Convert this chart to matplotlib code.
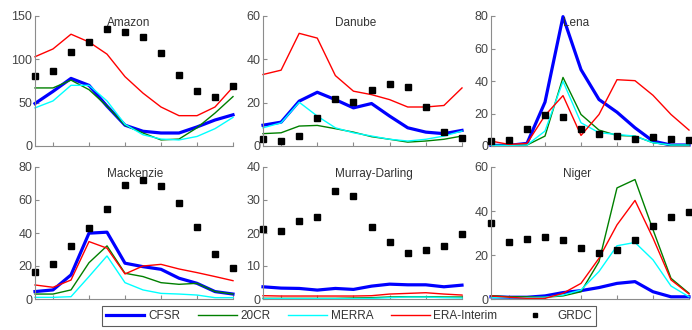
import matplotlib
import numpy as np

matplotlib.use('Agg')
import matplotlib.pyplot as plt

plt.rcParams['font.family'] = ['Liberation Sans', 'DejaVu Sans']

months = np.arange(1, 13)

basins = ['Amazon', 'Danube', 'Lena', 'Mackenzie', 'Murray-Darling', 'Niger']
series_names = ['CFSR', '20CR', 'MERRA', 'ERA-Interim']

# monthly runoff per basin
cfsr = {
    'Amazon': [49, 63, 78, 70, 46, 24, 17, 15, 15, 22, 30, 36],
    'Danube': [9.6, 11, 20.7, 24.8, 21.4, 17.6, 19.6, 13.8, 8.4, 6.4, 5.7, 7.2],
    'Lena': [0.4, 0.4, 1.6, 27, 79.6, 47, 28.6, 20.8, 11.2, 3, 0.6, 0.6],
    'Mackenzie': [4.5, 5.5, 14.6, 39.9, 40.5, 21.7, 19.6, 18, 12.6, 9.5, 4.5, 3],
    'Murray-Darling': [3.7, 3.3, 3.2, 2.7, 3.2, 2.9, 3.9, 4.5, 4.3, 4.3, 3.7, 4.2],
    'Niger': [1, 0.8, 0.8, 1.4, 2.9, 3.8, 5.2, 7.1, 7.9, 3.3, 1, 1],
}
c20cr = {
    'Amazon': [67, 67, 76, 65, 46, 24, 15, 7, 8, 21, 38, 57],
    'Danube': [5.7, 6.1, 9.2, 9.5, 8, 6.4, 4.3, 3.1, 1.8, 2.3, 3.1, 4.6],
    'Lena': [0.4, 0.4, 0.6, 6.1, 42.2, 19.4, 9.8, 6.5, 6.1, 2, 0.6, 0.6],
    'Mackenzie': [3, 3, 5.5, 22, 32.2, 15.6, 13.6, 9.9, 8.9, 9.5, 4.5, 3],
    'Murray-Darling': [0.2, 0.2, 0.2, 0.2, 0.2, 0.3, 0.4, 0.6, 0.7, 0.7, 0.6, 0.6],
    'Niger': [1.5, 1, 1, 0.8, 1.4, 3.3, 17, 50.5, 54.3, 31.5, 9.4, 2.6],
}
merra = {
    'Amazon': [44, 52, 70, 70, 52, 25, 13, 8, 7, 11, 20, 33],
    'Danube': [8.4, 10.7, 20.2, 13.8, 8.4, 6.1, 4.6, 3.1, 2.3, 3.1, 4.6, 6.9],
    'Lena': [0.4, 0.4, 0.6, 9.2, 39.8, 14.3, 8.2, 7.1, 6.1, 2, 0.6, 0.6],
    'Mackenzie': [1, 1, 1.4, 13.6, 26.1, 9.9, 5.5, 3.4, 3, 2.4, 0.8, 0.8],
    'Murray-Darling': [0.1, 0.1, 0.1, 0.1, 0.1, 0.1, 0.2, 0.4, 0.6, 0.6, 0.4, 0.3],
    'Niger': [0.6, 0.6, 0.6, 0.8, 1.8, 4.1, 12.5, 24.2, 25.7, 17.8, 5.9, 1],
}
era = {
    'Amazon': [103, 112, 129, 120, 106, 80, 61, 45, 35, 35, 45, 68],
    'Danube': [33, 35, 52, 49.8, 32.5, 25.3, 23.7, 21.4, 18, 18, 18.7, 26.8],
    'Lena': [3, 1, 1.6, 18.8, 31, 6.5, 19.4, 40.8, 40.2, 31.2, 19.4, 9.8],
    'Mackenzie': [8.5, 7.1, 11.5, 34.8, 30.8, 15.2, 20, 21, 18.2, 16, 13.6, 11.1],
    'Murray-Darling': [1.0, 0.9, 0.9, 0.9, 0.9, 0.9, 1.0, 1.5, 1.7, 1.9, 1.5, 1.2],
    'Niger': [1.4, 0.8, 0.3, 0.3, 2.6, 7.1, 18.5, 33.7, 44.8, 27.7, 8.7, 2.3],
}
grdc = {
    'Amazon': [81, 86, 109, 120, 135, 131, 126, 107, 82, 64, 57, 69],
    'Danube': [3.4, 2.3, 4.6, 13, 21.7, 20.5, 25.7, 28.8, 27.3, 17.9, 6.4, 3.8],
    'Lena': [3, 3.7, 10.2, 18.8, 17.8, 10.2, 7.1, 6.1, 4.5, 5.5, 4.5, 3.5],
    'Mackenzie': [16.6, 21.3, 32.2, 43.1, 54.5, 69.2, 71.9, 68.2, 58.1, 43.9, 27.3, 19],
    'Murray-Darling': [21.3, 20.6, 23.5, 24.7, 32.6, 31.2, 21.8, 17.2, 13.8, 14.9, 16.2, 19.6],
    'Niger': [34.5, 25.7, 27.4, 28.1, 26.6, 23.1, 21.1, 22.3, 26.6, 33.3, 37.1, 39.4],
}

ymax = {'Amazon': 150, 'Danube': 60, 'Lena': 80,
        'Mackenzie': 80, 'Murray-Darling': 40, 'Niger': 60}
ystep = {'Amazon': 50, 'Danube': 20, 'Lena': 20,
         'Mackenzie': 20, 'Murray-Darling': 10, 'Niger': 20}

W, H = 692, 330
fig = plt.figure(figsize=(W / 100, H / 100), dpi=100)

# axes boxes in pixels: left, right, top, bottom
boxes = {
    'Amazon': (35, 233, 16, 146),
    'Danube': (263, 462, 16, 146),
    'Lena': (491, 689, 16, 146),
    'Mackenzie': (35, 233, 167, 299),
    'Murray-Darling': (263, 462, 167, 299),
    'Niger': (491, 689, 167, 299),
}

gray = '#8c8c8c'
for name in basins:
    l, r, t, b = boxes[name]
    ax = fig.add_axes([l / W, 1 - b / H, (r - l) / W, (b - t) / H])
    ax.plot(months, cfsr[name], color='#0000ff', lw=2.3, label='CFSR', clip_on=False)
    ax.plot(months, c20cr[name], color='#008000', lw=1.0, label='20CR', clip_on=False)
    ax.plot(months, merra[name], color='#00ffff', lw=1.0, label='MERRA', clip_on=False)
    ax.plot(months, era[name], color='#ff0000', lw=1.0, label='ERA-Interim', clip_on=False)
    ax.plot(months, grdc[name], 's', color='k', ms=4, label='GRDC', clip_on=False)
    ax.set_xlim(1, 12)
    ax.set_ylim(0, ymax[name])
    ax.set_xticks(np.arange(2, 13, 2))
    ax.set_xticklabels([])
    ax.set_yticks(np.arange(0, ymax[name] + 1, ystep[name]))
    for s in ['top', 'right']:
        ax.spines[s].set_visible(False)
    for s in ['left', 'bottom']:
        ax.spines[s].set_color(gray)
        ax.spines[s].set_linewidth(0.8)
    ax.tick_params(direction='in', length=3, color=gray, labelsize=9,
                   labelcolor='#444444', pad=2)
    ax.patch.set_alpha(0)
    ax.text(5, 0.945, name, transform=ax.get_xaxis_transform(),
            ha='left', va='center', fontsize=8.5, color='#333333')

handles, labels = ax.get_legend_handles_labels()
leg = fig.legend(handles, labels, loc='center', ncol=5,
                 bbox_to_anchor=(349 / W, 1 - 316 / H), fontsize=8.5,
                 frameon=True, fancybox=False, handlelength=3.3,
                 handletextpad=0.3, columnspacing=1.5, borderpad=0.3,
                 markerscale=0.7)
leg.get_frame().set_edgecolor('#333333')
leg.get_frame().set_linewidth(0.8)
for txt in leg.get_texts():
    txt.set_color('#333333')

fig.savefig('out.png', dpi=100)
